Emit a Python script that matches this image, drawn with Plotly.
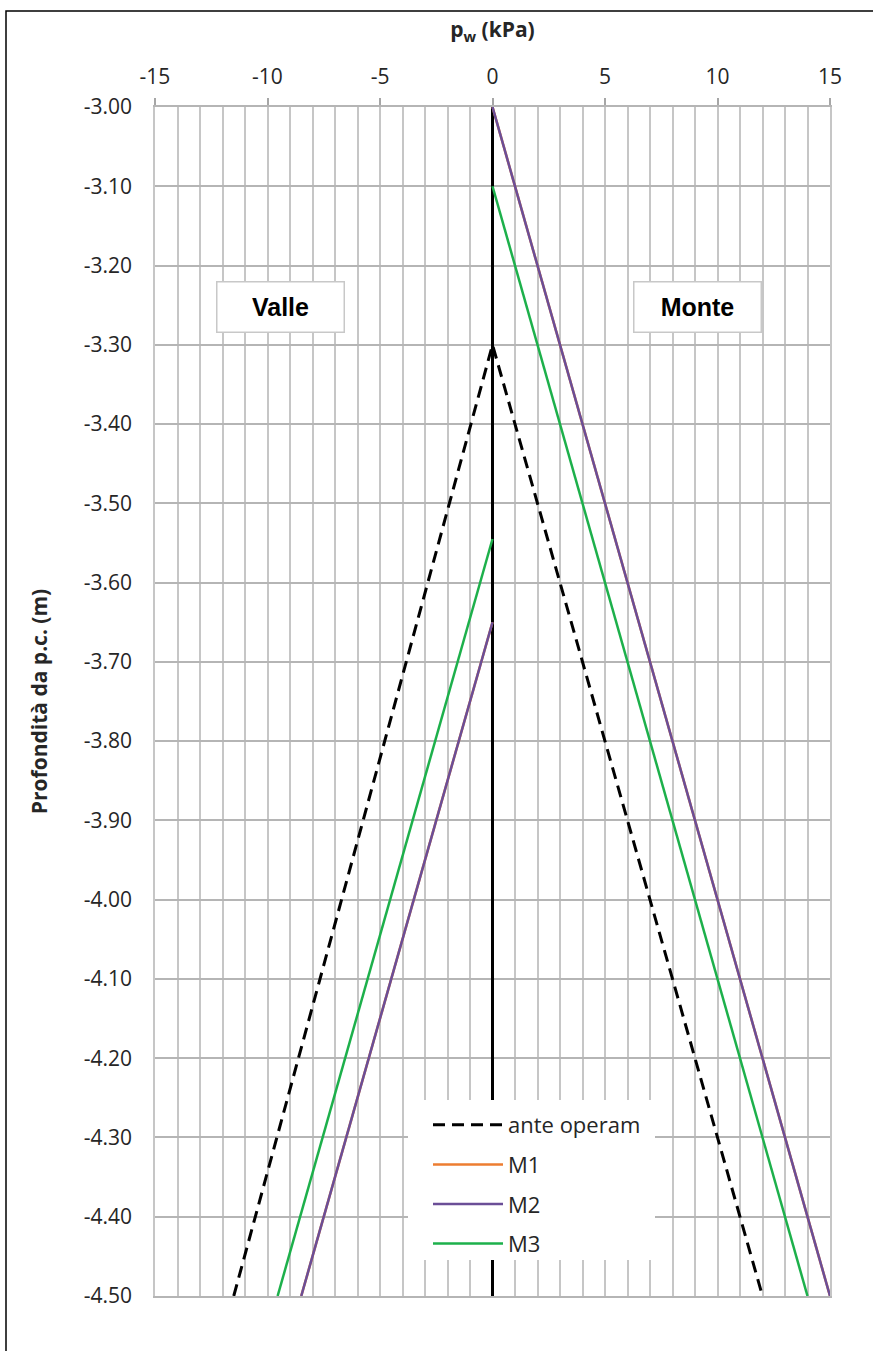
import plotly.graph_objects as go

# ---- data ----
ante_x = [-11.5, 0, 12]
ante_y = [-4.50, -3.30, -4.50]

m1_x = [-8.5, 0, None, 0, 15]
m1_y = [-4.50, -3.65, None, -3.00, -4.50]

m2_x = [-8.5, 0, None, 0, 15]
m2_y = [-4.50, -3.65, None, -3.00, -4.50]

m3_x = [-9.55, 0, None, 0, 14]
m3_y = [-4.50, -3.545, None, -3.10, -4.50]

wall_x = [0, 0]
wall_y = [-3.00, -4.50]

x_tickvals = [-15, -10, -5, 0, 5, 10, 15]
x_ticktext = ["-15", "-10", "-5", "0", "5", "10", "15"]
y_tickvals = [-3.0, -3.1, -3.2, -3.3, -3.4, -3.5, -3.6, -3.7, -3.8, -3.9,
              -4.0, -4.1, -4.2, -4.3, -4.4, -4.5]
y_ticktext = ["-3.00", "-3.10", "-3.20", "-3.30", "-3.40", "-3.50", "-3.60", "-3.70",
              "-3.80", "-3.90", "-4.00", "-4.10", "-4.20", "-4.30", "-4.40", "-4.50"]

FONT = "Open Sans"
fig = go.Figure()

fig.add_trace(go.Scatter(x=wall_x, y=wall_y, mode="lines", showlegend=False,
                         line=dict(color="black", width=3), hoverinfo="skip"))
fig.add_trace(go.Scatter(x=ante_x, y=ante_y, mode="lines", name="ante operam",
                         legendgroup="a",
                         line=dict(color="black", width=3, dash="12px,7px")))
fig.add_trace(go.Scatter(x=m1_x, y=m1_y, mode="lines", name="M1", legendgroup="b",
                         line=dict(color="#ED7D31", width=2.5)))
fig.add_trace(go.Scatter(x=m2_x, y=m2_y, mode="lines", name="M2", legendgroup="c",
                         line=dict(color="#6B4E97", width=2.5)))
fig.add_trace(go.Scatter(x=m3_x, y=m3_y, mode="lines", name="M3", legendgroup="d",
                         line=dict(color="#1DB04B", width=2.5)))

W, H = 873, 1351
L, T = 155, 107
pw, ph = 675, 1189
R = W - L - pw
B = H - T - ph

def px2paper_x(px):
    return (px - L) / pw

def px2paper_y(py):
    return (T + ph - py) / ph

GRID = "#c6c6c6"
TXT = "#262626"
fig.update_layout(
    width=W, height=H,
    margin=dict(l=L, r=R, t=T, b=B),
    paper_bgcolor="white", plot_bgcolor="white",
    font=dict(family=FONT, size=21, color=TXT),
    showlegend=True,
    legend=dict(x=px2paper_x(428), y=px2paper_y(1104), xanchor="left", yanchor="top",
                bgcolor="rgba(0,0,0,0)", font=dict(family=FONT, size=22, color=TXT),
                traceorder="grouped", tracegroupgap=8, itemwidth=70),
    xaxis=dict(side="top", range=[-15, 15], tickvals=x_tickvals, ticktext=x_ticktext,
               showgrid=True, gridcolor=GRID, gridwidth=1.5,
               minor=dict(dtick=1, tick0=-15, showgrid=True, gridcolor=GRID, gridwidth=1.5),
               ticks="outside", ticklen=7, tickcolor="#a6a6a6", tickwidth=1.5,
               ticklabelstandoff=6,
               showline=True, linecolor="#b5b5b5", linewidth=1.5, mirror=True,
               zeroline=False,
               title=dict(text="<b>p<sub>w</sub> (kPa)</b>", font=dict(family=FONT, size=21, color=TXT),
                          standoff=18)),
    yaxis=dict(range=[-4.50, -3.00], tickvals=y_tickvals, ticktext=y_ticktext,
               showgrid=True, gridcolor="#b5b5b5", gridwidth=1.5,
               ticks="", ticklabelstandoff=17,
               showline=True, linecolor=GRID, linewidth=1.5, mirror=True,
               zeroline=False,
               title=dict(text="<b>Profondità da p.c. (m)</b>", font=dict(family=FONT, size=21, color=TXT),
                          standoff=30)),
)

# white background area behind legend (legend box)
fig.add_shape(type="rect", xref="paper", yref="paper", layer="above",
              x0=px2paper_x(408), x1=px2paper_x(655), y0=px2paper_y(1260), y1=px2paper_y(1100),
              fillcolor="white", line=dict(width=0))

# outer chart border (partially visible)
fig.add_shape(type="rect", xref="paper", yref="paper", layer="above",
              x0=px2paper_x(6), x1=px2paper_x(900), y0=px2paper_y(1400), y1=px2paper_y(11),
              line=dict(color="black", width=1.5), fillcolor="rgba(0,0,0,0)")

for txt, xc in [("Valle", -9.42), ("Monte", 9.13)]:
    fig.add_annotation(x=xc, y=-3.252, xref="x", yref="y", text=f"<b>{txt}</b>",
                       showarrow=False, width=122, height=45, borderpad=2,
                       bgcolor="white", bordercolor="#c8c8c8", borderwidth=1.5,
                       font=dict(family="Liberation Sans", size=25, color="black"))

fig.write_html("out.html", config={"displayModeBar": False},
               post_script="document.body.style.margin='0px';document.body.style.padding='0px';")
